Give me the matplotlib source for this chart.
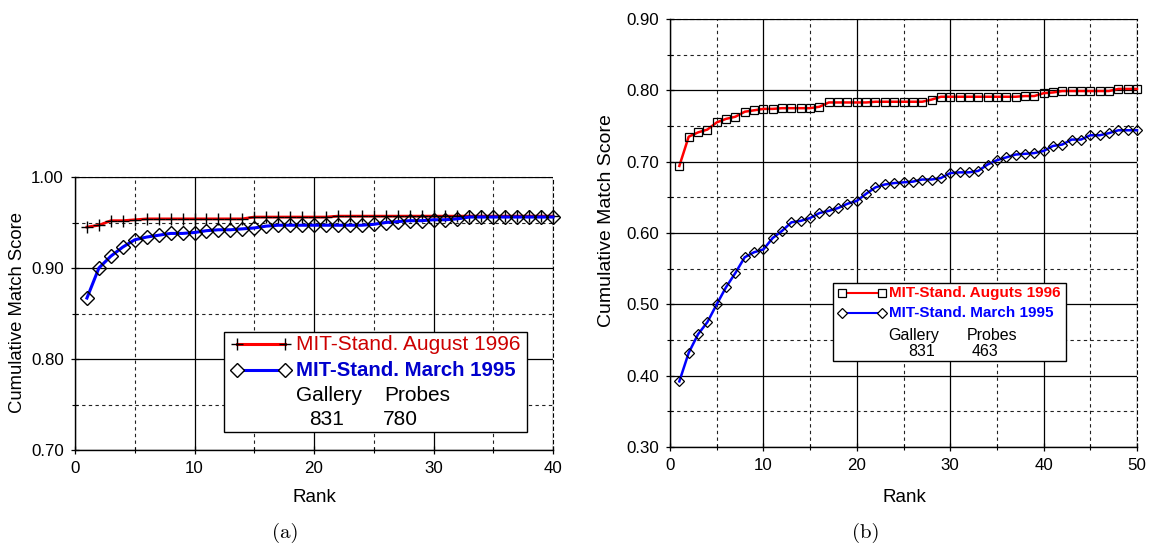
import matplotlib
matplotlib.use("Agg")
import matplotlib.pyplot as plt
from matplotlib.patches import Rectangle
from matplotlib.lines import Line2D

plt.rcParams['font.family'] = ['Liberation Sans', 'DejaVu Sans']

# ---------------- data ----------------
ranks_a = list(range(1, 41))
aug96_a = [0.945, 0.947, 0.952, 0.952, 0.953] + [0.954] * 9 + [0.956] * 7 + [0.957] * 19
mar95_a = [0.867, 0.900, 0.913, 0.923, 0.931, 0.934, 0.936, 0.938, 0.938, 0.939,
           0.941, 0.942, 0.942, 0.943, 0.944, 0.946, 0.947, 0.947, 0.947, 0.947,
           0.947, 0.947, 0.947, 0.947, 0.948, 0.950, 0.951, 0.952, 0.952, 0.953,
           0.953, 0.954, 0.956, 0.956, 0.956, 0.956, 0.956, 0.956, 0.956, 0.956]

ranks_b = list(range(1, 51))
aug96_b = [0.694, 0.735, 0.741, 0.745, 0.755, 0.760, 0.763, 0.770, 0.772, 0.774,
           0.774, 0.775, 0.775, 0.775, 0.775, 0.777, 0.783, 0.783, 0.783, 0.783,
           0.783, 0.784, 0.784, 0.784, 0.784, 0.784, 0.784, 0.787, 0.791, 0.791,
           0.791, 0.791, 0.791, 0.791, 0.791, 0.791, 0.791, 0.792, 0.792, 0.796,
           0.797, 0.799, 0.799, 0.799, 0.799, 0.799, 0.799, 0.802, 0.802, 0.802]
mar95_b = [0.392, 0.432, 0.458, 0.475, 0.500, 0.524, 0.544, 0.566, 0.573, 0.577,
           0.593, 0.603, 0.615, 0.617, 0.621, 0.628, 0.631, 0.635, 0.641, 0.645,
           0.655, 0.664, 0.668, 0.670, 0.671, 0.672, 0.675, 0.675, 0.677, 0.684,
           0.685, 0.685, 0.687, 0.696, 0.702, 0.706, 0.710, 0.711, 0.712, 0.715,
           0.722, 0.724, 0.731, 0.731, 0.737, 0.737, 0.740, 0.744, 0.744, 0.744]

yticks_a = [0.70, 0.80, 0.90, 1.00]
yticks_b = [0.30, 0.40, 0.50, 0.60, 0.70, 0.80, 0.90]
labels_a = ["MIT-Stand. August 1996", "MIT-Stand. March 1995"]
labels_b = ["MIT-Stand. Auguts 1996", "MIT-Stand. March 1995"]
gallery_a, probes_a = "831", "780"
gallery_b, probes_b = "831", "463"
xlabel = "Rank"
ylabel = "Cumulative Match Score"

W, H = 1149, 546
fig = plt.figure(figsize=(W / 100, H / 100), dpi=100)


def setup(ax, xmax, xstep, ylo, yhi, ystep, yticks):
    ax.set_xlim(0, xmax)
    ax.set_ylim(ylo, yhi)
    ax.set_xticks(list(range(0, xmax + 1, xstep)))
    ax.set_xticks([v + xstep / 2 for v in range(0, xmax, xstep)], minor=True)
    ax.set_yticks(yticks)
    ax.set_yticks([v + ystep / 2 for v in yticks[:-1]], minor=True)
    ax.set_yticklabels([f"{v:.2f}" for v in yticks])
    ax.grid(which='major', color='black', linewidth=0.9, linestyle='-')
    ax.grid(which='minor', color='#222222', linewidth=0.8, linestyle=(0, (3, 3)))
    ax.set_axisbelow(True)
    ax.tick_params(which='major', direction='inout', length=6, width=0.9, labelsize=12.2, pad=5)
    ax.tick_params(which='minor', direction='inout', length=4, width=0.8)
    for s in ['top', 'right']:
        ax.spines[s].set_linestyle((0, (3, 3)))
        ax.spines[s].set_linewidth(0.8)
    for s in ['left', 'bottom']:
        ax.spines[s].set_linewidth(1.0)


def px(x, y):
    return x / W, 1 - y / H


# ---------------- panel (a) ----------------
axa = fig.add_axes([75 / W, 1 - 450 / H, 478 / W, 273 / H])
setup(axa, 40, 10, 0.70, 1.00, 0.10, yticks_a)
axa.plot(ranks_a, aug96_a, color='red', lw=2.0, marker='+', ms=8, mec='black', mew=1.0, zorder=3, clip_on=False)
axa.plot(ranks_a, mar95_a, color='blue', lw=2.2, marker='D', ms=7.3, mfc='none', mec='black', mew=1.0, zorder=3, clip_on=False)

tr = axa.transAxes
axa.add_patch(Rectangle((0.312, 0.066), 0.634, 0.366, transform=tr, facecolor='white',
                        edgecolor='black', lw=1.0, zorder=5))
axa.add_line(Line2D([0.338, 0.439], [0.387, 0.387], transform=tr, color='red', lw=2.2,
                    marker='+', ms=9, mec='black', mew=1.0, zorder=6))
axa.add_line(Line2D([0.338, 0.439], [0.293, 0.293], transform=tr, color='blue', lw=2.2,
                    marker='D', ms=7, mfc='white', mec='black', mew=1.0, zorder=6))
fs = 15
axa.text(0.462, 0.387, labels_a[0], transform=tr, color='#cc0000', fontsize=fs,
         va='center', ha='left', zorder=7)
axa.text(0.462, 0.293, labels_a[1], transform=tr, color='#0000cc', fontsize=fs - 0.3,
         fontweight='bold', va='center', ha='left', zorder=7)
axa.text(0.462, 0.198, "Gallery", transform=tr, color='black', fontsize=fs, va='center', ha='left', zorder=7)
axa.text(0.648, 0.198, "Probes", transform=tr, color='black', fontsize=fs, va='center', ha='left', zorder=7)
axa.text(0.489, 0.110, gallery_a, transform=tr, color='black', fontsize=fs, va='center', ha='left', zorder=7)
axa.text(0.645, 0.110, probes_a, transform=tr, color='black', fontsize=fs, va='center', ha='left', zorder=7)

fig.text(*px(17.5, 312.5), ylabel, rotation=90, fontsize=13.3, ha='center', va='center')
fig.text(*px(314, 497), xlabel, fontsize=13.6, ha='center', va='center')

# ---------------- panel (b) ----------------
axb = fig.add_axes([670 / W, 1 - 447 / H, 467 / W, 428 / H])
setup(axb, 50, 10, 0.30, 0.90, 0.10, yticks_b)
axb.plot(ranks_b, aug96_b, color='red', lw=1.8, marker='s', ms=5.5, mfc='none', mec='black', mew=0.9, zorder=3, clip_on=False)
axb.plot(ranks_b, mar95_b, color='blue', lw=1.8, marker='D', ms=5.5, mfc='none', mec='black', mew=0.9, zorder=3, clip_on=False)

tr = axb.transAxes
axb.add_patch(Rectangle((0.350, 0.201), 0.499, 0.1815, transform=tr, facecolor='white',
                        edgecolor='black', lw=1.0, zorder=5))
axb.add_line(Line2D([0.369, 0.453], [0.3605, 0.3605], transform=tr, color='red', lw=1.5,
                    marker='s', ms=5.5, mfc='white', mec='black', mew=0.9, zorder=6))
axb.add_line(Line2D([0.369, 0.453], [0.314, 0.314], transform=tr, color='blue', lw=1.5,
                    marker='D', ms=5, mfc='white', mec='black', mew=0.9, zorder=6))
fs = 11.0
axb.text(0.468, 0.3605, labels_b[0], transform=tr, color='red', fontsize=fs,
         fontweight='bold', va='center', ha='left', zorder=7)
axb.text(0.468, 0.314, labels_b[1], transform=tr, color='blue', fontsize=fs,
         fontweight='bold', va='center', ha='left', zorder=7)
axb.text(0.468, 0.260, "Gallery", transform=tr, color='black', fontsize=fs + 0.5, va='center', ha='left', zorder=7)
axb.text(0.635, 0.260, "Probes", transform=tr, color='black', fontsize=fs + 0.5, va='center', ha='left', zorder=7)
axb.text(0.511, 0.224, gallery_b, transform=tr, color='black', fontsize=fs + 0.5, va='center', ha='left', zorder=7)
axb.text(0.645, 0.224, probes_b, transform=tr, color='black', fontsize=fs + 0.5, va='center', ha='left', zorder=7)

fig.text(*px(606.5, 221), ylabel, rotation=90, fontsize=14, ha='center', va='center')
fig.text(*px(904, 497), xlabel, fontsize=13.6, ha='center', va='center')

# captions
fig.text(*px(285, 533), "(a)", family=['cmr10', 'DejaVu Serif'], fontsize=15, ha='center', va='center')
fig.text(*px(866, 533), "(b)", family=['cmr10', 'DejaVu Serif'], fontsize=15, ha='center', va='center')

fig.savefig("out.png", dpi=100)
